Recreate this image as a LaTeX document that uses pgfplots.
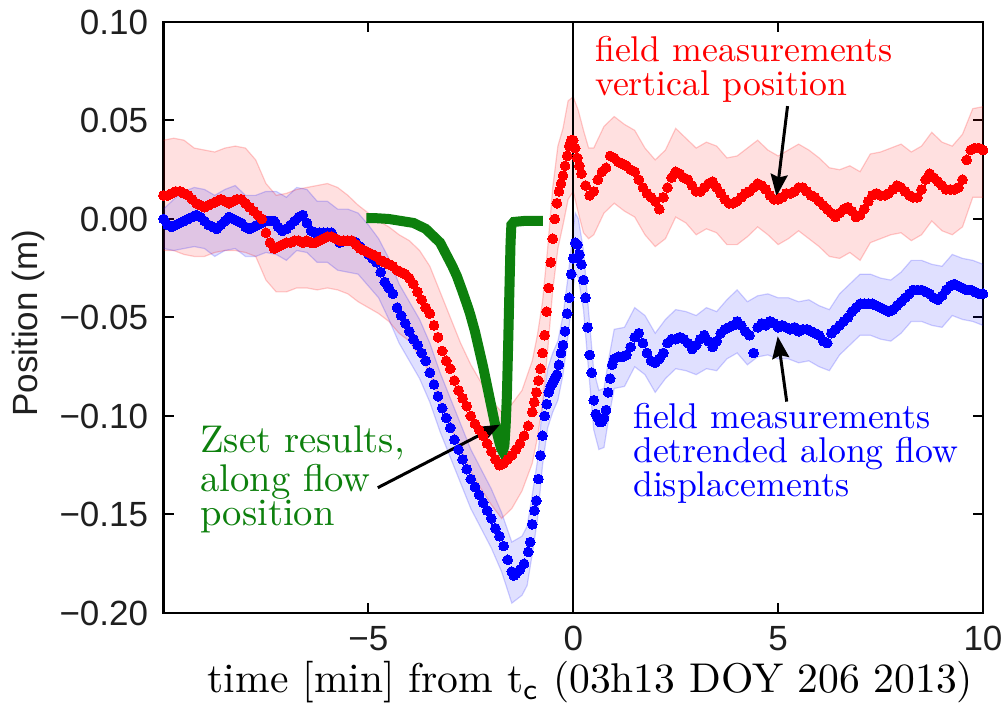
\documentclass[border=0pt]{standalone}
\usepackage{fontspec}
\usepackage{graphicx}
\usepackage{pgfplots}
\pgfplotsset{compat=1.18}
\usepackage{pgfplotstable}
\usepgfplotslibrary{fillbetween}
\usetikzlibrary{arrows.meta}
\newfontfamily\arial{Liberation Sans}
\definecolor{zgreen}{rgb}{0.05,0.5,0.05}
\definecolor{ticktext}{gray}{0.12}
\newcommand{\ann}[2]{\scalebox{#1}{\fontsize{10}{12}\selectfont #2}}
% scale, baselineskip (unscaled), text
\newcommand{\annblock}[3]{\scalebox{#1}{\begin{minipage}[t]{120pt}\fontsize{10}{#2}\selectfont\raggedright #3\end{minipage}}}

\pgfplotstableread{
x y
-10.0 0.012
-9.9 0.012
-9.8 0.013
-9.7 0.014
-9.6 0.014
-9.5 0.013
-9.4 0.012
-9.3 0.010
-9.2 0.008
-9.1 0.007
-9.0 0.006
-8.9 0.007
-8.8 0.008
-8.7 0.009
-8.6 0.010
-8.5 0.009
-8.4 0.008
-8.3 0.009
-8.2 0.010
-8.1 0.010
-8.0 0.008
-7.9 0.006
-7.8 0.004
-7.7 0.002
-7.6 0.000
-7.5 -0.007
-7.4 -0.012
-7.3 -0.015
-7.2 -0.014
-7.1 -0.013
-7.0 -0.012
-6.9 -0.012
-6.8 -0.011
-6.7 -0.011
-6.6 -0.012
-6.5 -0.011
-6.4 -0.012
-6.3 -0.012
-6.2 -0.011
-6.1 -0.010
-6.0 -0.009
-5.9 -0.009
-5.8 -0.010
-5.7 -0.011
-5.6 -0.011
-5.5 -0.011
-5.4 -0.011
-5.3 -0.013
-5.2 -0.015
-5.1 -0.016
-5.0 -0.017
-4.9 -0.018
-4.8 -0.019
-4.7 -0.021
-4.6 -0.022
-4.5 -0.023
-4.4 -0.024
-4.3 -0.026
-4.2 -0.027
-4.1 -0.028
-4.0 -0.030
-3.9 -0.033
-3.8 -0.037
-3.7 -0.041
-3.6 -0.045
-3.5 -0.048
-3.4 -0.054
-3.3 -0.060
-3.2 -0.067
-3.1 -0.072
-3.0 -0.076
-2.9 -0.082
-2.8 -0.087
-2.7 -0.091
-2.6 -0.095
-2.5 -0.100
-2.4 -0.104
-2.3 -0.107
-2.2 -0.110
-2.1 -0.114
-2.0 -0.118
-1.9 -0.122
-1.8 -0.125
-1.7 -0.124
-1.6 -0.122
-1.5 -0.120
-1.4 -0.117
-1.3 -0.114
-1.2 -0.110
-1.1 -0.105
-1.0 -0.098
-0.95 -0.093
-0.9 -0.088
-0.85 -0.082
-0.8 -0.076
-0.75 -0.068
-0.7 -0.059
-0.65 -0.047
-0.6 -0.035
-0.55 -0.022
-0.5 -0.010
-0.45 0.000
-0.4 0.008
-0.35 0.014
-0.3 0.018
-0.25 0.022
-0.2 0.027
-0.15 0.032
-0.1 0.037
-0.05 0.040
0.0 0.040
0.05 0.036
0.1 0.031
0.15 0.027
0.2 0.023
0.3 0.017
0.4 0.012
0.5 0.014
0.6 0.020
0.7 0.024
0.8 0.026
0.9 0.032
1.0 0.031
1.1 0.029
1.2 0.028
1.3 0.027
1.4 0.025
1.5 0.024
1.6 0.020
1.7 0.016
1.8 0.013
1.9 0.011
2.0 0.009
2.1 0.005
2.2 0.011
2.3 0.016
2.4 0.021
2.5 0.024
2.6 0.023
2.7 0.021
2.8 0.020
2.9 0.017
3.0 0.014
3.1 0.014
3.2 0.016
3.3 0.018
3.4 0.019
3.5 0.016
3.6 0.013
3.7 0.010
3.8 0.008
3.9 0.008
4.0 0.009
4.1 0.011
4.2 0.013
4.3 0.014
4.4 0.016
4.5 0.018
4.6 0.017
4.7 0.015
4.8 0.012
4.9 0.010
5.0 0.010
5.1 0.011
5.2 0.013
5.3 0.013
5.4 0.014
5.5 0.016
5.6 0.016
5.7 0.014
5.8 0.012
5.9 0.011
6.0 0.009
6.1 0.007
6.2 0.005
6.3 0.003
6.4 0.001
6.5 0.003
6.6 0.005
6.7 0.006
6.8 0.004
6.9 0.001
7.0 0.002
7.1 0.005
7.2 0.009
7.3 0.012
7.4 0.013
7.5 0.012
7.6 0.012
7.7 0.013
7.8 0.015
7.9 0.017
8.0 0.016
8.1 0.014
8.2 0.012
8.3 0.011
8.4 0.011
8.5 0.015
8.6 0.020
8.7 0.023
8.8 0.021
8.9 0.019
9.0 0.017
9.1 0.015
9.2 0.015
9.3 0.015
9.4 0.016
9.5 0.020
9.6 0.030
9.7 0.035
9.8 0.036
9.9 0.036
10.0 0.035
}\redpts

\pgfplotstableread{
x y
-10.0 0.000
-9.9 -0.003
-9.8 -0.004
-9.7 -0.003
-9.6 -0.002
-9.5 -0.001
-9.4 0.000
-9.3 0.001
-9.2 0.002
-9.1 0.001
-9.0 -0.001
-8.9 -0.003
-8.8 -0.004
-8.7 -0.005
-8.6 -0.003
-8.5 -0.001
-8.4 0.001
-8.3 0.000
-8.2 -0.001
-8.1 -0.002
-8.0 -0.004
-7.9 -0.005
-7.8 -0.004
-7.7 -0.003
-7.6 -0.002
-7.5 -0.001
-7.4 -0.001
-7.3 -0.001
-7.2 -0.004
-7.1 -0.006
-7.0 -0.005
-6.9 -0.003
-6.8 -0.001
-6.7 0.001
-6.6 0.002
-6.5 -0.002
-6.4 -0.006
-6.3 -0.007
-6.2 -0.007
-6.1 -0.007
-6.0 -0.007
-5.9 -0.007
-5.8 -0.010
-5.7 -0.012
-5.6 -0.011
-5.5 -0.011
-5.4 -0.011
-5.3 -0.012
-5.2 -0.014
-5.1 -0.016
-5.0 -0.018
-4.9 -0.020
-4.8 -0.022
-4.7 -0.027
-4.6 -0.032
-4.5 -0.035
-4.4 -0.038
-4.3 -0.045
-4.2 -0.049
-4.1 -0.053
-4.0 -0.057
-3.9 -0.061
-3.8 -0.064
-3.7 -0.068
-3.6 -0.072
-3.5 -0.078
-3.4 -0.084
-3.3 -0.090
-3.2 -0.096
-3.1 -0.101
-3.0 -0.106
-2.9 -0.112
-2.8 -0.117
-2.7 -0.122
-2.6 -0.127
-2.5 -0.132
-2.4 -0.136
-2.3 -0.140
-2.2 -0.144
-2.1 -0.148
-2.0 -0.152
-1.9 -0.157
-1.8 -0.161
-1.7 -0.166
-1.6 -0.173
-1.5 -0.179
-1.45 -0.181
-1.4 -0.180
-1.3 -0.178
-1.2 -0.175
-1.1 -0.169
-1.05 -0.164
-1.0 -0.155
-0.95 -0.148
-0.9 -0.143
-0.85 -0.132
-0.8 -0.120
-0.75 -0.110
-0.7 -0.100
-0.65 -0.094
-0.6 -0.088
-0.55 -0.085
-0.5 -0.083
-0.45 -0.081
-0.4 -0.079
-0.35 -0.074
-0.3 -0.068
-0.25 -0.064
-0.2 -0.057
-0.15 -0.048
-0.1 -0.040
-0.05 -0.028
0.0 -0.020
0.05 -0.012
0.1 -0.013
0.15 -0.018
0.2 -0.023
0.25 -0.031
0.3 -0.040
0.35 -0.055
0.4 -0.069
0.45 -0.078
0.5 -0.092
0.55 -0.099
0.6 -0.101
0.65 -0.103
0.7 -0.103
0.75 -0.101
0.8 -0.097
0.85 -0.088
0.9 -0.081
0.95 -0.074
1.0 -0.071
1.1 -0.070
1.2 -0.070
1.3 -0.069
1.4 -0.065
1.5 -0.060
1.6 -0.058
1.7 -0.063
1.8 -0.068
1.9 -0.072
2.0 -0.073
2.1 -0.071
2.2 -0.068
2.3 -0.063
2.4 -0.061
2.5 -0.061
2.6 -0.060
2.7 -0.061
2.8 -0.063
2.9 -0.066
3.0 -0.064
3.1 -0.061
3.2 -0.059
3.3 -0.062
3.4 -0.065
3.5 -0.062
3.6 -0.058
3.7 -0.056
3.8 -0.055
3.9 -0.054
4.0 -0.052
4.1 -0.054
4.2 -0.057
4.3 -0.059
4.4 -0.068
4.5 -0.055
4.6 -0.053
4.7 -0.054
4.8 -0.052
4.9 -0.053
5.0 -0.055
5.1 -0.054
5.2 -0.055
5.3 -0.056
5.4 -0.055
5.5 -0.057
5.6 -0.056
5.7 -0.056
5.8 -0.057
5.9 -0.058
6.0 -0.059
6.1 -0.062
6.2 -0.063
6.3 -0.058
6.4 -0.056
6.5 -0.054
6.6 -0.052
6.7 -0.050
6.8 -0.047
6.9 -0.045
7.0 -0.043
7.1 -0.043
7.2 -0.043
7.3 -0.043
7.4 -0.044
7.5 -0.045
7.6 -0.046
7.7 -0.047
7.8 -0.046
7.9 -0.044
8.0 -0.042
8.1 -0.040
8.2 -0.038
8.3 -0.036
8.4 -0.036
8.5 -0.036
8.6 -0.037
8.7 -0.038
8.8 -0.040
8.9 -0.041
9.0 -0.039
9.1 -0.036
9.2 -0.034
9.3 -0.033
9.4 -0.034
9.5 -0.035
9.6 -0.036
9.7 -0.036
9.8 -0.037
9.9 -0.038
10.0 -0.038
}\bluepts

\pgfplotstableread{
x lo hi
-10 -0.016 0.040
-9.75 -0.016 0.041
-9.5 -0.018 0.040
-9.25 -0.019 0.036
-9 -0.019 0.035
-8.75 -0.017 0.034
-8.5 -0.016 0.036
-8.25 -0.016 0.037
-8 -0.017 0.036
-7.75 -0.019 0.030
-7.5 -0.031 0.018
-7.25 -0.037 0.012
-7 -0.037 0.013
-6.75 -0.035 0.015
-6.5 -0.035 0.016
-6.25 -0.036 0.017
-6 -0.035 0.018
-5.75 -0.036 0.016
-5.5 -0.038 0.012
-5.25 -0.042 0.007
-5 -0.045 0.003
-4.75 -0.048 -0.001
-4.5 -0.052 -0.004
-4.25 -0.058 -0.008
-4 -0.062 -0.011
-3.75 -0.070 -0.016
-3.5 -0.078 -0.024
-3.25 -0.093 -0.037
-3 -0.105 -0.050
-2.75 -0.117 -0.063
-2.5 -0.128 -0.074
-2.25 -0.137 -0.083
-2 -0.145 -0.092
-1.75 -0.152 -0.098
-1.5 -0.147 -0.094
-1.25 -0.138 -0.087
-1 -0.124 -0.072
-0.875 -0.111 -0.059
-0.75 -0.094 -0.042
-0.625 -0.067 -0.015
-0.5 -0.036 0.016
-0.375 -0.015 0.037
-0.25 -0.003 0.046
-0.125 0.010 0.060
0 0.014 0.062
0.125 0.003 0.055
0.25 -0.007 0.045
0.375 -0.010 0.036
0.5 -0.008 0.036
0.75 0.003 0.047
1 0.008 0.052
1.25 0.004 0.048
1.5 0.001 0.045
1.75 -0.008 0.036
2 -0.014 0.030
2.25 -0.010 0.035
2.5 0.001 0.046
2.75 -0.002 0.041
3 -0.008 0.036
3.25 -0.005 0.039
3.5 -0.007 0.037
3.75 -0.013 0.031
4 -0.013 0.032
4.25 -0.009 0.036
4.5 -0.004 0.040
4.75 -0.008 0.035
5 -0.013 0.032
5.25 -0.010 0.035
5.5 -0.006 0.038
5.75 -0.010 0.035
6 -0.014 0.031
6.25 -0.019 0.026
6.5 -0.020 0.025
6.75 -0.017 0.027
7 -0.021 0.024
7.25 -0.012 0.033
7.5 -0.010 0.034
7.75 -0.008 0.036
8 -0.007 0.038
8.25 -0.011 0.034
8.5 -0.008 0.037
8.75 -0.001 0.044
9 -0.006 0.039
9.25 -0.008 0.037
9.5 -0.004 0.043
9.75 0.011 0.056
10 0.011 0.057
}\redband

\pgfplotstableread{
x lo hi
-10 -0.015 0.005
-9.75 -0.016 0.010
-9.5 -0.015 0.014
-9.25 -0.014 0.016
-9 -0.015 0.015
-8.75 -0.019 0.012
-8.5 -0.016 0.015
-8.25 -0.015 0.017
-8 -0.019 0.012
-7.75 -0.019 0.012
-7.5 -0.017 0.014
-7.25 -0.018 0.014
-7 -0.021 0.011
-6.75 -0.016 0.016
-6.5 -0.017 0.015
-6.25 -0.022 0.009
-6 -0.022 0.009
-5.75 -0.026 0.005
-5.5 -0.027 0.005
-5.25 -0.028 0.003
-5 -0.034 -0.003
-4.75 -0.040 -0.010
-4.5 -0.051 -0.020
-4.25 -0.063 -0.033
-4 -0.072 -0.042
-3.75 -0.081 -0.051
-3.5 -0.093 -0.063
-3.25 -0.108 -0.078
-3 -0.121 -0.091
-2.75 -0.134 -0.104
-2.5 -0.147 -0.117
-2.25 -0.157 -0.127
-2 -0.167 -0.137
-1.75 -0.179 -0.149
-1.5 -0.195 -0.164
-1.25 -0.191 -0.161
-1.125 -0.186 -0.156
-1 -0.170 -0.140
-0.875 -0.153 -0.123
-0.75 -0.125 -0.095
-0.625 -0.106 -0.076
-0.5 -0.098 -0.068
-0.375 -0.092 -0.062
-0.25 -0.079 -0.049
-0.125 -0.059 -0.029
0 -0.035 -0.005
0.05 -0.027 0.003
0.125 -0.030 0.000
0.25 -0.046 -0.016
0.375 -0.077 -0.047
0.5 -0.107 -0.077
0.625 -0.117 -0.087
0.75 -0.116 -0.086
0.875 -0.100 -0.070
1 -0.086 -0.056
1.25 -0.085 -0.055
1.5 -0.075 -0.045
1.75 -0.079 -0.049
2 -0.088 -0.058
2.25 -0.081 -0.051
2.5 -0.076 -0.046
2.75 -0.077 -0.047
3 -0.079 -0.049
3.25 -0.076 -0.045
3.5 -0.077 -0.047
3.75 -0.071 -0.041
4 -0.068 -0.036
4.25 -0.074 -0.042
4.5 -0.070 -0.039
4.75 -0.069 -0.038
5 -0.071 -0.040
5.25 -0.071 -0.040
5.5 -0.073 -0.042
5.75 -0.072 -0.041
6 -0.075 -0.044
6.25 -0.077 -0.046
6.5 -0.069 -0.038
6.75 -0.064 -0.033
7 -0.059 -0.028
7.25 -0.059 -0.028
7.5 -0.061 -0.030
7.75 -0.062 -0.031
8 -0.058 -0.027
8.25 -0.052 -0.021
8.5 -0.052 -0.021
8.75 -0.054 -0.023
9 -0.055 -0.024
9.25 -0.049 -0.018
9.5 -0.051 -0.020
9.75 -0.052 -0.021
10 -0.054 -0.023
}\blueband

\pgfplotstableread{
x y
-5.05 0.0005
-4.8 0.0004
-4.5 0.0000
-4.2 -0.0010
-3.9 -0.0020
-3.6 -0.0050
-3.4 -0.0090
-3.25 -0.0120
-3.1 -0.0180
-2.95 -0.0240
-2.84 -0.0290
-2.7 -0.0370
-2.6 -0.0430
-2.52 -0.0480
-2.4 -0.0570
-2.3 -0.0660
-2.2 -0.0750
-2.1 -0.0850
-2.0 -0.0950
-1.9 -0.1050
-1.82 -0.1120
-1.76 -0.1165
-1.72 -0.1180
-1.68 -0.1150
-1.65 -0.1050
-1.62 -0.0900
-1.59 -0.0650
-1.56 -0.0380
-1.53 -0.0120
-1.51 -0.0030
-1.45 -0.0015
-1.2 -0.0010
-0.9 -0.0010
-0.74 -0.0010
}\greenpts

\begin{document}
\begin{tikzpicture}
\begin{axis}[
  at={(0,0)}, anchor=south west,
  width=409.75pt, height=295.5pt, scale only axis,
  xmin=-10, xmax=10, ymin=-0.2, ymax=0.1,
  xtick={-5,0,5,10}, xticklabels={−5,0,5,10},
  ytick={-0.2,-0.15,-0.1,-0.05,0,0.05,0.1},
  yticklabels={−0.20,−0.15,−0.10,−0.05,0.00,0.05,0.10},
  tick align=inside,
  major tick length=5pt,
  axis line style={line width=1.2pt},
  every tick/.style={black, line width=1pt},
  ticklabel style={font=\arial\fontsize{17.5}{20}\selectfont, text=ticktext, inner sep=0pt},
  xticklabel style={yshift=-6.5pt},
  yticklabel style={xshift=-7.5pt},
  xlabel={\ann{2.08}{time [min] from $\mathrm{t}_\mathsf{c}$ (03h13 DOY 206 2013)}},
  xlabel style={at={(axis description cs:0.521,0)}, anchor=base, yshift=-40pt, inner sep=0pt},
  ylabel={Position (m)},
  ylabel style={font=\arial\fontsize{17.5}{20}\selectfont, text=ticktext, at={(axis description cs:-0.165,0.49)}, anchor=center},
]
% bands
\addplot[name path=rhi, draw=red, draw opacity=0.2, line width=0.6pt] table[x=x,y=hi]{\redband};
\addplot[name path=rlo, draw=red, draw opacity=0.2, line width=0.6pt] table[x=x,y=lo]{\redband};
\addplot[fill=red, fill opacity=0.12, draw=none] fill between[of=rhi and rlo];
\addplot[name path=bhi, draw=blue, draw opacity=0.18, line width=0.6pt] table[x=x,y=hi]{\blueband};
\addplot[name path=blo, draw=blue, draw opacity=0.18, line width=0.6pt] table[x=x,y=lo]{\blueband};
\addplot[fill=blue, fill opacity=0.12, draw=none] fill between[of=bhi and blo];
% series
\addplot[blue, only marks, mark=*, mark size=2.45pt, mark options={draw=blue, fill=blue, line width=0pt}] table[x=x,y=y]{\bluepts};
\addplot[red, only marks, mark=*, mark size=2.45pt, mark options={draw=red, fill=red, line width=0pt}] table[x=x,y=y]{\redpts};
\addplot[zgreen, line width=5pt, no marks] table[x=x,y=y]{\greenpts};
\addplot[black, line width=1pt, no marks] coordinates {(0,-0.2) (0,0.1)};
% annotations
\node[red, anchor=base west, inner sep=0pt] at (axis cs:0.524,0.0797) {\annblock{1.79}{9.3pt}{field measurements\\vertical position}};
\node[blue, anchor=base west, inner sep=0pt] at (axis cs:1.451,-0.1064) {\annblock{1.79}{9.5pt}{field measurements\\detrended along flow\\displacements}};
\node[zgreen, anchor=base west, inner sep=0pt] at (axis cs:-9.11,-0.1186) {\annblock{1.93}{8.85pt}{Zset results,\\along flow\\position}};
\draw[line width=1.5pt, -{Stealth[length=11pt, width=8.5pt, inset=1.5pt]}] (axis cs:5.23,0.0573) -- (axis cs:4.96,0.0115);
\draw[line width=1.5pt, -{Stealth[length=11pt, width=8.5pt, inset=1.5pt]}] (axis cs:5.21,-0.0927) -- (axis cs:4.99,-0.0596);
\draw[line width=1.5pt, -{Stealth[length=11pt, width=8.5pt, inset=1.5pt]}] (axis cs:-4.77,-0.1364) -- (axis cs:-1.79,-0.1044);
\end{axis}
\pgfresetboundingbox
\useasboundingbox (-81.75pt,-45.5pt) rectangle (421.75pt,306.5pt);
\end{tikzpicture}
\end{document}
